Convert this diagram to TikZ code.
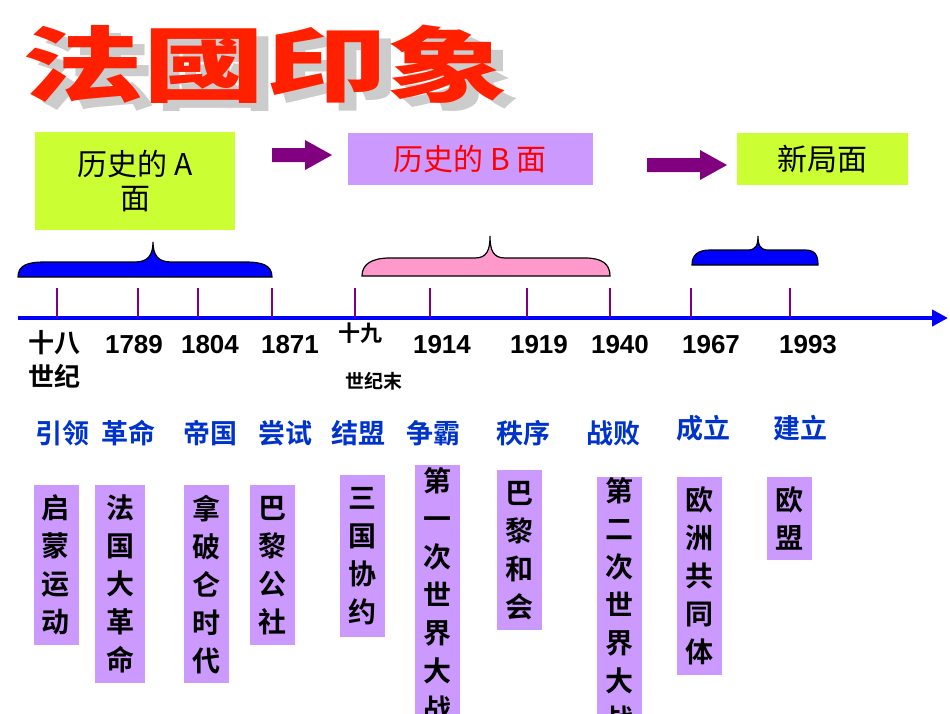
\documentclass[tikz,border=0pt]{standalone}
\usepackage{fontspec}
\setmainfont{Liberation Sans}
\newfontfamily\cjk{Noto Sans CJK SC}
\newfontfamily\cjkb{Noto Sans CJK SC Bold}
\newfontfamily\cjktc{Noto Sans CJK TC Black}
\usetikzlibrary{arrows.meta}
\definecolor{lav}{HTML}{CC99FF}
\definecolor{lime}{HTML}{CCFF33}
\definecolor{tick}{HTML}{800080}
\definecolor{axis}{HTML}{0000FF}
\definecolor{lbl}{HTML}{0033CC}
\definecolor{pinkb}{HTML}{FF99CC}
\begin{document}
\begin{tikzpicture}[x=1pt,y=-1pt,
  hbox/.style={draw=none,inner sep=0pt,font=\cjk\fontsize{30}{34}\selectfont},
  vbox/.style={fill=lav,draw=none,inner sep=0pt,anchor=north,minimum width=45pt,text width=45pt,align=center,font=\cjkb\fontsize{28}{38}\selectfont},
  yr/.style={font=\fontsize{26}{28}\selectfont\bfseries,inner sep=0pt},
  caplbl/.style={font=\cjkb\fontsize{27}{38}\selectfont,text=lbl,inner sep=0pt},
  parr/.style={fill=tick,draw=none},
  brace/.style={draw=black,line width=1.2pt}]
\useasboundingbox (0,0) rectangle (950,713);
% title
\node[font=\cjktc\fontsize{82}{82}\selectfont,text=black!20,xscale=1.48,inner sep=0pt] (tsh) at (277,72) {法國印象};
\node[font=\cjktc\fontsize{82}{82}\selectfont,text=red!75!orange,xscale=1.48,inner sep=0pt] (t) at (265,64) {法國印象};
% top boxes
\node[hbox,fill=lime,minimum width=200pt,minimum height=98pt,align=center] (ba) at (135,181) {历史的 A\\面};
\node[hbox,fill=lav,minimum width=245pt,minimum height=52pt,text=red] (bb) at (470,159) {历史的 B 面};
\node[hbox,fill=lime,minimum width=171pt,minimum height=52pt] (bc) at (822,159) {新局面};
\fill[parr] (272,148) -- (305,148) -- (305,140) -- (332,155) -- (305,170) -- (305,162) -- (272,162) -- cycle;
\fill[parr] (647,158) -- (700,158) -- (700,150) -- (727,165) -- (700,180) -- (700,172) -- (647,172) -- cycle;
% braces
\draw[brace,fill=blue] (18,277) .. controls (18,265) and (28,262) .. (45,262) -- (135,262) .. controls (148,262) and (153,255) .. (153,242) .. controls (153,255) and (158,262) .. (171,262) -- (245,262) .. controls (262,262) and (272,265) .. (272,277) -- cycle;
\draw[brace,fill=pinkb] (362,276) .. controls (362,264) and (372,258) .. (390,258) -- (475,258) .. controls (487,258) and (490,250) .. (490,236) .. controls (490,250) and (493,258) .. (505,258) -- (585,258) .. controls (602,258) and (610,264) .. (610,276) -- cycle;
\draw[brace,fill=blue] (692,265) .. controls (692,255) and (698,250) .. (710,250) -- (748,250) .. controls (756,250) and (758,245) .. (758,236) .. controls (758,245) and (760,250) .. (768,250) -- (805,250) .. controls (815,250) and (818,255) .. (818,265) -- cycle;
% axis
\coordinate (s) at (18,318);
\coordinate (e) at (948,318);
\draw[axis,line width=4pt,-{Triangle[length=16pt,width=16pt]}] (s) -- (e);
\foreach \x in {57,138,198,272,355,430,527,610,691,790}
  \draw[tick,line width=2.5pt] (\x,288) -- (\x,317);
% year labels
\node[yr,font=\cjkb\fontsize{26}{34}\selectfont,align=left,anchor=north west] (l0) at (28,330) {十八\\世纪};
\node[yr] (l1) at (134,345) {1789};
\node[yr] (l2) at (210,345) {1804};
\node[yr] (l3) at (290,345) {1871};
\node[font=\cjkb\fontsize{22}{24}\selectfont,inner sep=0pt] (l4) at (360,333) {十九};
\node[font=\cjkb\fontsize{19}{22}\selectfont,inner sep=0pt] (l4b) at (374,381) {世纪末};
\node[yr] (l5) at (442,345) {1914};
\node[yr] (l6) at (539,345) {1919};
\node[yr] (l7) at (620,345) {1940};
\node[yr] (l8) at (711,345) {1967};
\node[yr] (l9) at (808,345) {1993};
% captions
\node[caplbl] (c1) at (62,433) {引领};
\node[caplbl] (c2) at (128,433) {革命};
\node[caplbl] (c3) at (210,433) {帝国};
\node[caplbl] (c4) at (285,433) {尝试};
\node[caplbl] (c5) at (358,433) {结盟};
\node[caplbl] (c6) at (433,433) {争霸};
\node[caplbl] (c7) at (523,433) {秩序};
\node[caplbl] (c8) at (613,433) {战败};
\node[caplbl] (c9) at (703,428) {成立};
\node[caplbl] (c10) at (800,428) {建立};
% vertical boxes
\node[vbox,minimum height=160pt] (v1) at (56,485) {启\\蒙\\运\\动};
\node[vbox,minimum height=198pt,minimum width=50pt,text width=50pt] (v2) at (120,485) {法\\国\\大\\革\\命};
\node[vbox,minimum height=198pt] (v3) at (206,485) {拿\\破\\仑\\时\\代};
\node[vbox,minimum height=160pt] (v4) at (272,485) {巴\\黎\\公\\社};
\node[vbox,minimum height=162pt] (v5) at (362,475) {三\\国\\协\\约};
\node[vbox,minimum height=260pt] (v6) at (437,465) {第\\一\\次\\世\\界\\大\\战};
\node[vbox,minimum height=160pt] (v7) at (519,470) {巴\\黎\\和\\会};
\node[vbox,minimum height=250pt] (v8) at (619,477) {第\\二\\次\\世\\界\\大\\战};
\node[vbox,minimum height=198pt] (v9) at (699,477) {欧\\洲\\共\\同\\体};
\node[vbox,minimum height=83pt] (v10) at (789,477) {欧\\盟};
\end{tikzpicture}
\end{document}
